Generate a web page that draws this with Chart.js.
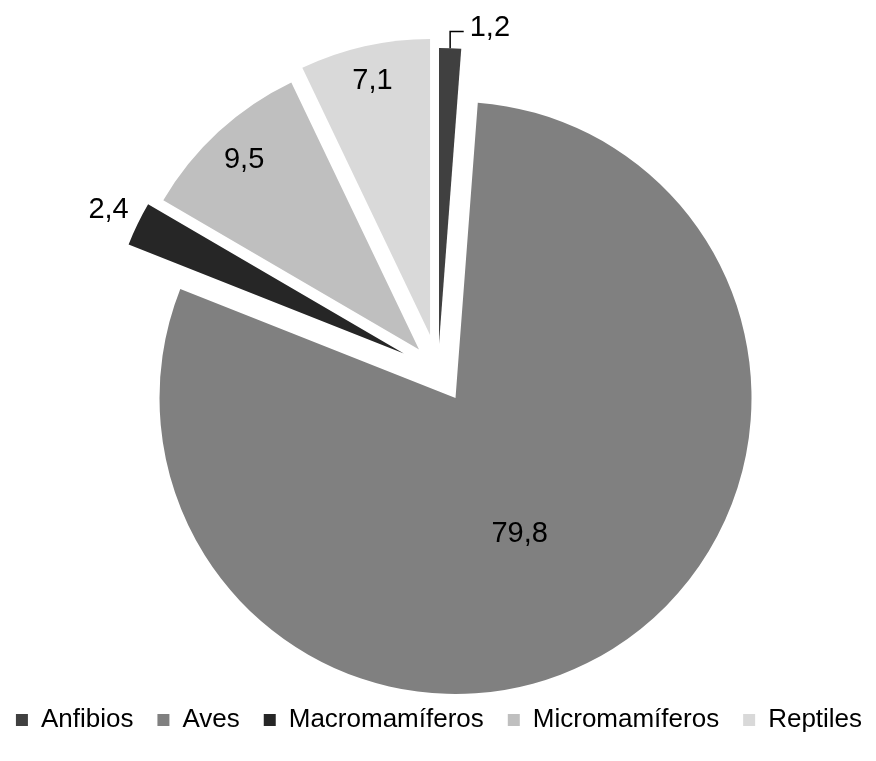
<!DOCTYPE html>
<html>
<head>
<meta charset="utf-8">
<script src="https://cdn.jsdelivr.net/npm/chart.js@4"></script>
<style>
  html, body { margin: 0; padding: 0; background: #fff; }
  #wrap { width: 876px; height: 761px; }
</style>
</head>
<body>
<div id="wrap"><canvas id="pie"></canvas></div>
<script>
const categories = ['Anfibios', 'Aves', 'Macromamíferos', 'Micromamíferos', 'Reptiles'];
const shares = [1.2, 79.8, 2.4, 9.5, 7.1];

const sliceColors = ['#404040', '#808080', '#262626', '#bfbfbf', '#d9d9d9'];
// how far each slice is pulled out from the centre, px
const explode = [26, 33, 38, 28, 36];
// value label placement: fraction of radius, extra turn in degrees
const labelRadius = [1.08, 0.508, 1.109, 0.872, 0.879];
const labelTurn = [7, 6.8, 0, 0, 0];
const withLeader = [true, false, false, false, false];

const FONT = '"Liberation Sans", Arial, Helvetica, sans-serif';

const fmt = v => v.toFixed(1).replace('.', ',');

// move every arc along its middle angle (keeps the radius unchanged)
const explodePlugin = {
  id: 'explode',
  afterDatasetsUpdate(chart) {
    chart.getDatasetMeta(0).data.forEach((arc, i) => {
      const mid = (arc.startAngle + arc.endAngle) / 2;
      arc.x += Math.cos(mid) * explode[i];
      arc.y += Math.sin(mid) * explode[i];
    });
  }
};

const valueLabels = {
  id: 'valueLabels',
  afterDatasetsDraw(chart) {
    const ctx = chart.ctx;
    const data = chart.data.datasets[0].data;
    ctx.save();
    ctx.font = '29px ' + FONT;
    ctx.fillStyle = '#000';
    ctx.textAlign = 'center';
    ctx.textBaseline = 'middle';
    chart.getDatasetMeta(0).data.forEach((arc, i) => {
      const mid = (arc.startAngle + arc.endAngle) / 2;
      const a = mid + labelTurn[i] * Math.PI / 180;
      const r = arc.outerRadius * labelRadius[i];
      const lx = arc.x + Math.cos(a) * r;
      const ly = arc.y + Math.sin(a) * r;
      const text = fmt(data[i]);
      if (withLeader[i]) {
        const w = ctx.measureText(text).width;
        const ex = arc.x + Math.cos(mid) * arc.outerRadius;
        const ey = arc.y + Math.sin(mid) * arc.outerRadius;
        ctx.beginPath();
        ctx.strokeStyle = '#000';
        ctx.lineWidth = 1.5;
        ctx.moveTo(ex, ey);
        ctx.lineTo(ex, ly + 3);
        ctx.lineTo(lx - w / 2 - 6, ly + 3);
        ctx.stroke();
      }
      ctx.fillText(text, lx, ly);
    });
    ctx.restore();
  }
};

new Chart(document.getElementById('pie'), {
  type: 'pie',
  data: {
    labels: categories,
    datasets: [{
      data: shares,
      backgroundColor: sliceColors,
      borderWidth: 0,
      radius: 296,
      clip: false
    }]
  },
  options: {
    responsive: true,
    maintainAspectRatio: false,
    animation: false,
    events: [],
    // wide side padding lets the legend stay on one row
    layout: { padding: { top: 57, bottom: 18, left: -28, right: -30 } },
    plugins: {
      tooltip: { enabled: false },
      legend: {
        position: 'bottom',
        labels: {
          boxWidth: 12,
          boxHeight: 12,
          padding: 24,
          color: '#000',
          font: { family: FONT, size: 26 }
        }
      }
    }
  },
  plugins: [explodePlugin, valueLabels]
});
</script>
</body>
</html>
